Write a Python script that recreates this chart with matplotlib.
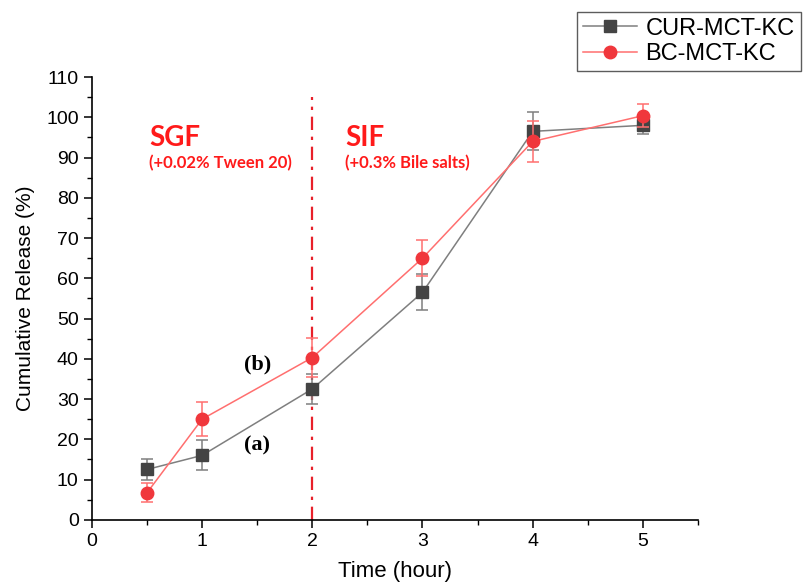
import matplotlib
matplotlib.use("Agg")
import matplotlib.pyplot as plt
from matplotlib.lines import Line2D
from matplotlib.ticker import MultipleLocator

time_h = [0.5, 1, 2, 3, 4, 5]
cur_release = [12.5, 16.0, 32.5, 56.5, 96.5, 98.0]
cur_err = [2.7, 3.7, 3.7, 4.5, 4.7, 2.2]
bc_release = [6.7, 25.0, 40.3, 65.0, 94.0, 100.4]
bc_err = [2.4, 4.2, 4.9, 4.4, 5.0, 2.8]

plt.rcParams["font.family"] = ["Liberation Sans", "DejaVu Sans"]

fig = plt.figure(figsize=(8.06, 5.88), dpi=100)
ax = fig.add_axes([0.114, 0.116, 0.752, 0.753])

cur_style = dict(color="#7f7f7f", lw=1.1, marker="s", ms=8, mfc="#444444", mec="#444444")
bc_style = dict(color="#ff6f6f", lw=1.1, marker="o", ms=9, mfc="#f0373c", mec="#f0373c")

ax.errorbar(time_h, cur_release, yerr=cur_err, capsize=4, elinewidth=1.1,
            capthick=1.1, zorder=3, **cur_style)
ax.errorbar(time_h, bc_release, yerr=bc_err, capsize=4, elinewidth=1.1,
            capthick=1.1, zorder=4, **bc_style)

ax.plot([2, 2], [0, 105], color="#e8202a", lw=1.6, ls=(0, (6, 3, 1.5, 3)), zorder=2)

ax.set_xlim(0, 5.5)
ax.set_ylim(0, 110)
ax.xaxis.set_major_locator(MultipleLocator(1))
ax.xaxis.set_minor_locator(MultipleLocator(0.5))
ax.yaxis.set_major_locator(MultipleLocator(10))
ax.yaxis.set_minor_locator(MultipleLocator(5))
ax.spines[["top", "right"]].set_visible(False)
for side in ("left", "bottom"):
    ax.spines[side].set_linewidth(1.2)
ax.tick_params(which="major", direction="out", length=6, width=1.1, labelsize=14)
ax.tick_params(which="minor", direction="out", length=3.5, width=1.0)
ax.set_xticks(range(0, 6))
ax.set_xlabel("Time (hour)", fontsize=16, labelpad=8)
ax.set_ylabel("Cumulative Release (%)", fontsize=15, labelpad=8)

red = "#ff1a1a"
label_font = ["Lato", "DejaVu Sans"]
ax.text(0.52, 92.8, "SGF", color=red, fontsize=20, fontweight="bold", family=label_font)
ax.text(0.52, 87.3, "(+0.02% Tween 20)", color=red, fontsize=12, fontweight="bold", family=label_font)
ax.text(2.3, 92.8, "SIF", color=red, fontsize=20, fontweight="bold", family=label_font)
ax.text(2.3, 87.3, "(+0.3% Bile salts)", color=red, fontsize=12, fontweight="bold", family=label_font)

serif = ["Liberation Serif", "DejaVu Serif"]
ax.text(1.38, 37.3, "(b)", fontsize=16, fontweight="bold", family=serif)
ax.text(1.38, 17.3, "(a)", fontsize=16, fontweight="bold", family=serif)

handles = [Line2D([], [], **cur_style), Line2D([], [], **bc_style)]
leg = fig.legend(handles, ["CUR-MCT-KC", "BC-MCT-KC"], loc="upper left",
                 bbox_to_anchor=(0.716, 0.98), borderaxespad=0, fontsize=17,
                 frameon=True, fancybox=False, edgecolor="#333333",
                 handlelength=2.3, borderpad=0.25, labelspacing=0.15, handletextpad=0.35)
leg.get_frame().set_linewidth(1.0)

fig.savefig("out.png", dpi=100)
